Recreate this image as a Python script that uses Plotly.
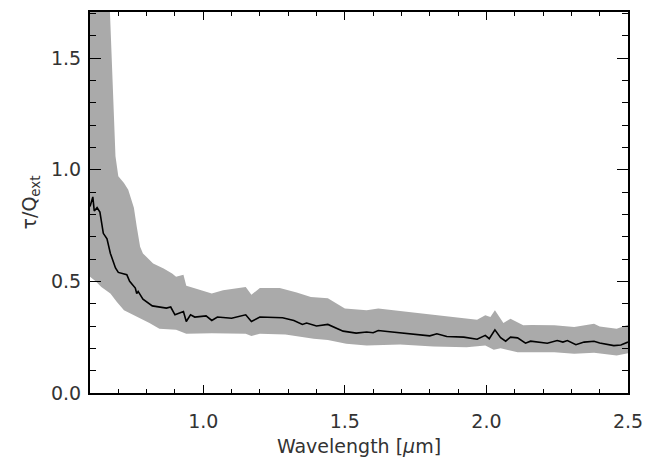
import plotly.graph_objects as go

# Upper edge of uncertainty band
upper_x = [0.60, 0.66, 0.67, 0.68, 0.69, 0.70, 0.72, 0.735, 0.755, 0.765, 0.777, 0.787,
           0.823, 0.86, 0.89, 0.904, 0.93, 0.94, 0.955, 1.03, 1.07, 1.15, 1.17, 1.20,
           1.27, 1.33, 1.38, 1.44, 1.50, 1.577, 1.618, 1.695, 1.754, 1.813, 1.872, 1.93,
           1.967, 1.996, 2.014, 2.03, 2.06, 2.085, 2.13, 2.16, 2.24, 2.31, 2.38, 2.40,
           2.46, 2.50]
upper_y = [2.20, 2.20, 1.72, 1.35, 1.06, 0.97, 0.94, 0.91, 0.83, 0.745, 0.655, 0.625,
           0.58, 0.557, 0.535, 0.52, 0.53, 0.48, 0.475, 0.445, 0.46, 0.475, 0.44, 0.47,
           0.47, 0.45, 0.43, 0.424, 0.378, 0.37, 0.378, 0.367, 0.358, 0.352, 0.34, 0.333,
           0.328, 0.348, 0.34, 0.37, 0.313, 0.333, 0.303, 0.305, 0.303, 0.295, 0.31, 0.298,
           0.288, 0.306]

# Lower edge of uncertainty band
lower_x = [0.60, 0.62, 0.64, 0.672, 0.695, 0.72, 0.765, 0.81, 0.845, 0.904, 0.94, 1.03,
           1.15, 1.17, 1.20, 1.29, 1.39, 1.44, 1.505, 1.577, 1.695, 1.813, 1.93, 1.996,
           2.026, 2.05, 2.11, 2.17, 2.24, 2.31, 2.38, 2.46, 2.50]
lower_y = [0.52, 0.50, 0.475, 0.445, 0.407, 0.37, 0.34, 0.313, 0.288, 0.283, 0.265, 0.268,
           0.265, 0.255, 0.265, 0.262, 0.243, 0.237, 0.22, 0.213, 0.217, 0.208, 0.205, 0.213,
           0.194, 0.20, 0.183, 0.183, 0.183, 0.176, 0.18, 0.168, 0.178]

# Central curve
wavelength = [0.600, 0.610, 0.615, 0.625, 0.635, 0.647, 0.660, 0.672, 0.690, 0.700, 0.730,
              0.740, 0.760, 0.765, 0.770, 0.787, 0.820, 0.870, 0.885, 0.900, 0.930, 0.940,
              0.955, 0.970, 1.010, 1.030, 1.050, 1.100, 1.150, 1.170, 1.200, 1.280, 1.320,
              1.350, 1.365, 1.400, 1.440, 1.494, 1.540, 1.577, 1.600, 1.618, 1.650, 1.695,
              1.754, 1.800, 1.825, 1.860, 1.920, 1.967, 1.996, 2.010, 2.030, 2.050, 2.068,
              2.085, 2.110, 2.138, 2.156, 2.215, 2.250, 2.270, 2.286, 2.316, 2.345, 2.380,
              2.400, 2.450, 2.475, 2.500]
tau_q = [0.835, 0.878, 0.815, 0.83, 0.81, 0.715, 0.69, 0.625, 0.56, 0.54, 0.53,
         0.50, 0.47, 0.445, 0.455, 0.42, 0.39, 0.38, 0.385, 0.35, 0.365, 0.32,
         0.35, 0.34, 0.345, 0.325, 0.34, 0.335, 0.35, 0.32, 0.34, 0.337, 0.325,
         0.307, 0.313, 0.30, 0.307, 0.277, 0.268, 0.273, 0.27, 0.28, 0.275, 0.27,
         0.262, 0.256, 0.265, 0.253, 0.25, 0.241, 0.258, 0.243, 0.283, 0.248, 0.232,
         0.25, 0.247, 0.223, 0.232, 0.223, 0.235, 0.228, 0.235, 0.216, 0.228, 0.232,
         0.224, 0.212, 0.215, 0.228]

x_ticks = [1.0, 1.5, 2.0, 2.5]
y_ticks = [0.0, 0.5, 1.0, 1.5]

FONT = "DejaVu Sans"
TXT = "#333333"

fig = go.Figure()
fig.add_trace(go.Scatter(
    x=upper_x + lower_x[::-1],
    y=upper_y + lower_y[::-1],
    fill="toself", fillcolor="#aaaaaa", line=dict(width=0),
    mode="lines", hoverinfo="skip", showlegend=False,
))
fig.add_trace(go.Scatter(
    x=wavelength, y=tau_q, mode="lines",
    line=dict(color="black", width=1.6), showlegend=False,
))

fig.update_layout(
    width=645, height=457,
    margin=dict(l=90, r=17, t=12, b=64),
    paper_bgcolor="white", plot_bgcolor="white",
    font=dict(family=FONT, size=19, color=TXT),
)
fig.update_xaxes(
    range=[0.6, 2.5], tickmode="array", tickvals=x_ticks,
    ticktext=[f"{v:.1f}" for v in x_ticks], automargin=False,
    ticks="inside", ticklen=8, tickwidth=1.3, tickcolor="black",
    minor=dict(tickmode="linear", tick0=0.6, dtick=0.1, ticks="inside",
               ticklen=4, tickwidth=1.3, tickcolor="black"),
    showline=True, linecolor="black", linewidth=2, mirror="allticks",
    showgrid=False, zeroline=False, ticklabelstandoff=10,
    ticklabeloverflow="allow",
    title=dict(text="Wavelength [<i>µ</i>m]", standoff=15,
               font=dict(family=FONT, size=19, color=TXT)),
)
fig.update_yaxes(
    range=[0, 1.706], tickmode="array", tickvals=y_ticks,
    ticktext=[f"{v:.1f}" for v in y_ticks], automargin=False,
    ticks="inside", ticklen=11, tickwidth=1.3, tickcolor="black",
    minor=dict(tickmode="linear", tick0=0.0, dtick=0.1, ticks="inside",
               ticklen=6, tickwidth=1.3, tickcolor="black"),
    showline=True, linecolor="black", linewidth=2, mirror="allticks",
    showgrid=False, zeroline=False, ticklabelstandoff=3,
    title=dict(text="τ/Q<sub>ext</sub>", standoff=9,
               font=dict(family=FONT, size=19, color=TXT)),
)

# remove the browser's default 8px body margin so the figure fills the window
fig.write_html(
    "out.html",
    config={"displayModeBar": False},
    post_script="document.body.style.margin='0';document.body.style.overflow='hidden';",
)
